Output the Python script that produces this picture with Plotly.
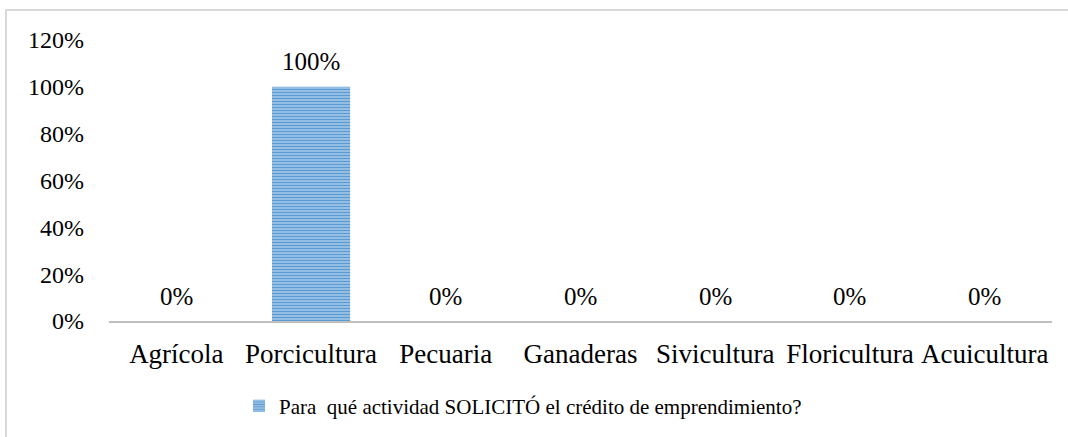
import plotly.graph_objects as go

categories = ["Agrícola", "Porcicultura", "Pecuaria", "Ganaderas", "Sivicultura", "Floricultura", "Acuicultura"]
values = [0, 100, 0, 0, 0, 0, 0]
labels = ["0%", "100%", "0%", "0%", "0%", "0%", "0%"]
series_name = "Para  qué actividad SOLICITÓ el crédito de emprendimiento?"
y_ticks = [0, 20, 40, 60, 80, 100, 120]
y_ticktext = ["0%", "20%", "40%", "60%", "80%", "100%", "120%"]

FONT = "Liberation Serif"
W, H = 1068, 437
L, R, T, B = 109, 16, 40, 116
pw, ph = W - L - R, H - T - B

fig = go.Figure()
fig.add_trace(go.Bar(
    x=categories, y=values, name=series_name,
    marker=dict(color="#5B9BD5", line=dict(width=0),
                pattern=dict(shape="-", fgcolor="#5B9BD5", bgcolor="#DCE9F6",
                             size=3, solidity=0.7, fillmode="replace")),
    width=0.58, showlegend=True,
))

for c, v, t in zip(categories, values, labels):
    fig.add_annotation(x=c, y=v, text=t, showarrow=False, yanchor="middle",
                       yshift=25, font=dict(family=FONT, size=25, color="#000000"))

fig.update_layout(
    width=W, height=H,
    margin=dict(l=L, r=R, t=T, b=B, pad=0, autoexpand=False),
    paper_bgcolor="white", plot_bgcolor="white",
    font=dict(family=FONT, size=24, color="#000000"),
    xaxis=dict(showline=True, linecolor="#BFBFBF", linewidth=2, showgrid=False,
               ticks="", ticklabelstandoff=8, tickfont=dict(family=FONT, size=27),
               range=[-0.5, 6.5], fixedrange=True),
    yaxis=dict(range=[0, 120], tickvals=y_ticks, ticktext=y_ticktext, showgrid=False,
               zeroline=False, showline=False, ticks="", ticklabelstandoff=24,
               tickfont=dict(family=FONT, size=24)),
    legend=dict(orientation="h", x=(523 - L) / pw, xanchor="center",
                y=(T + ph - 406) / ph, yanchor="middle",
                font=dict(family=FONT, size=21), itemwidth=30,
                bgcolor="rgba(0,0,0,0)"),
    shapes=[dict(type="rect", xref="paper", yref="paper",
                 x0=(6 - L) / pw, x1=(W + 10 - L) / pw,
                 y0=(T + ph - (H + 10)) / ph, y1=1 + (T - 10) / ph,
                 line=dict(color="#D9D9D9", width=2), fillcolor="rgba(0,0,0,0)", layer="below")],
)

fig.write_html("out.html", config={"displayModeBar": False},
               post_script="document.body.style.margin='0';document.body.style.overflow='hidden';")
